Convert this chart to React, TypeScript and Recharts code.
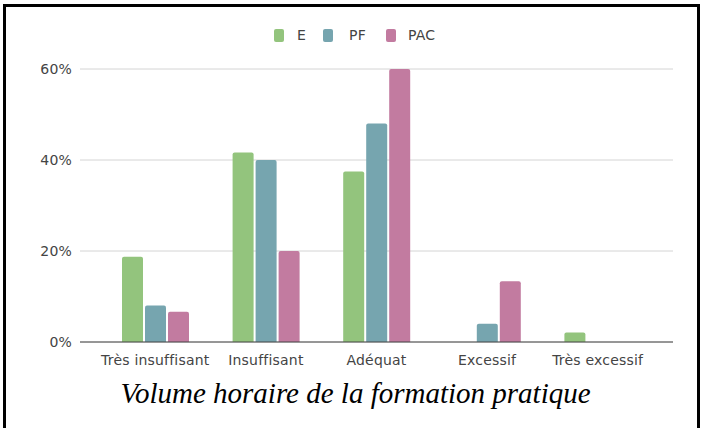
import React from 'react';
import { BarChart, Bar, XAxis, YAxis, CartesianGrid } from 'recharts';

const categories = ['Très insuffisant', 'Insuffisant', 'Adéquat', 'Excessif', 'Très excessif'];
const seriesE = [18.75, 41.67, 37.5, 0, 2.08];
const seriesPF = [8, 40, 48, 4, 0];
const seriesPAC = [6.67, 20, 60, 13.33, 0];
const yTicks = [0, 20, 40, 60];

const seriesList = [
  { key: 'E', color: '#93c47d' },
  { key: 'PF', color: '#76a5af' },
  { key: 'PAC', color: '#c27ba0' },
];

// legend layout: square x, text x
const legendPos = [
  { sq: 274, tx: 297 },
  { sq: 323, tx: 349 },
  { sq: 386, tx: 408 },
];

const data = categories.map((name, i) => ({
  name,
  E: seriesE[i],
  PF: seriesPF[i],
  PAC: seriesPAC[i],
}));

const labelFont = '"DejaVu Sans", Verdana, sans-serif';

const App: React.FC = () => {
  return (
    <div style={{ position: 'absolute', left: 0, top: 0, width: 701, height: 428, background: '#fff', overflow: 'hidden' }}>
      <div
        style={{
          position: 'absolute',
          left: 3,
          top: 4,
          width: 697,
          height: 460,
          boxSizing: 'border-box',
          border: '3px solid #000',
        }}
      />

      {/* legend */}
      {seriesList.map((s, i) => (
        <React.Fragment key={s.key}>
          <div
            style={{
              position: 'absolute',
              left: legendPos[i].sq,
              top: 29,
              width: 10,
              height: 13,
              borderRadius: 2,
              background: s.color,
            }}
          />
          <div
            style={{
              position: 'absolute',
              left: legendPos[i].tx,
              top: 27,
              lineHeight: '17px',
              fontFamily: labelFont,
              fontSize: 14,
              letterSpacing: 0.2,
              color: '#444',
            }}
          >
            {s.key}
          </div>
        </React.Fragment>
      ))}

      <div style={{ position: 'absolute', left: 0, top: 0 }}>
        <BarChart
          width={701}
          height={428}
          data={data}
          margin={{ top: 69, right: 28, bottom: 56, left: 20 }}
          barSize={21}
          barGap={2}
        >
          <CartesianGrid vertical={false} stroke="#d4d4d4" />
          <XAxis
            dataKey="name"
            height={30}
            padding={{ left: 20, right: 20 }}
            axisLine={{ stroke: '#444' }}
            tickLine={false}
            tickMargin={7}
            interval={0}
            tick={{ fill: '#444', fontSize: 14, fontFamily: labelFont, letterSpacing: 0.2 }}
          />
          <YAxis
            width={60}
            domain={[0, 60]}
            ticks={yTicks}
            axisLine={false}
            tickLine={false}
            tickFormatter={(v: number) => `${v}%`}
            tick={{ fill: '#444', fontSize: 14, fontFamily: labelFont, letterSpacing: 0.2 }}
          />
          {seriesList.map((s) => (
            <Bar key={s.key} dataKey={s.key} fill={s.color} radius={[2, 2, 0, 0]} isAnimationActive={false} />
          ))}
        </BarChart>
      </div>

      <div
        style={{
          position: 'absolute',
          left: 0,
          top: 378,
          width: 711,
          textAlign: 'center',
          fontFamily: '"Liberation Serif", "Times New Roman", serif',
          fontStyle: 'italic',
          fontSize: 29,
          lineHeight: '30px',
          color: '#000',
        }}
      >
        Volume horaire de la formation pratique
      </div>
    </div>
  );
};

export default App;
